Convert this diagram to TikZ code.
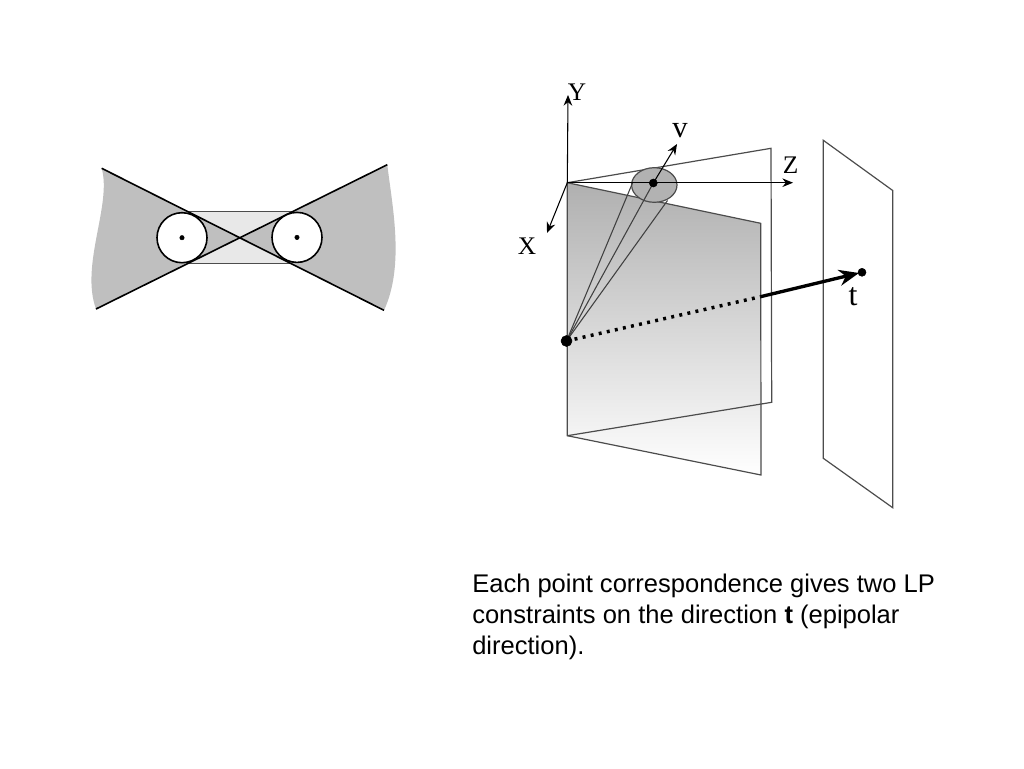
\documentclass[tikz,border=0pt]{standalone}
\usepackage{fontspec}
\setmainfont{Liberation Sans}
\newfontfamily\axisfont{Liberation Serif}
\usetikzlibrary{arrows.meta}

\tikzset{
    bowedge/.style={draw=black, line width=1.2pt},
    planeedge/.style={draw=black!70, line width=0.9pt},
    axisline/.style={draw=black, line width=0.8pt, -{Stealth[length=8pt, width=6.5pt]}},
    raceline/.style={draw=black!75, line width=0.8pt},
    axislabel/.style={font=\axisfont\fontsize{19}{21}\selectfont, inner sep=0pt},
    wedgefill/.style={fill=black!25},
    dotmark/.style={fill=black, draw=black}
}

\begin{document}
\begin{tikzpicture}[x=0.75pt, y=-0.75pt]
    \useasboundingbox (0, 0) rectangle (1024, 768);

    % two views
    \coordinate (tl) at (101.7, 168.3);
    \coordinate (bl) at (96, 309);
    \coordinate (tr) at (387.3, 164.7);
    \coordinate (br) at (384, 310.3);
    \coordinate (cross) at (240, 237.7);
    \coordinate (leftc) at (182, 237.7);
    \coordinate (rightc) at (297, 237.4);

    \filldraw[fill=black!9, draw=black!70, line width=0.8pt]
        (187, 211.3) rectangle (292, 263.3);
    \fill[wedgefill] (cross) -- (tl)
        .. controls (112, 205) and (80, 265) .. (bl) -- cycle;
    \fill[wedgefill] (cross) -- (tr)
        .. controls (392, 205) and (405, 265) .. (br) -- cycle;
    \draw[bowedge] (tl) -- (br);
    \draw[bowedge] (bl) -- (tr);
    \foreach \c in {leftc, rightc} {
        \filldraw[fill=white, bowedge] (\c) circle (25);
        \filldraw[dotmark] (\c) circle (2.2);
    }

    % planes
    \coordinate (origin) at (567.3, 182.7);
    \coordinate (low) at (567.3, 435.7);
    \coordinate (campt) at (566.5, 341);
    \coordinate (center) at (653.3, 183);

    \shade[top color=black!31, bottom color=white]
        (origin) -- (760.7, 223.3) -- (761, 475) -- (low) -- cycle;
    \draw[planeedge] (origin) -- (771, 148.3) -- (771.7, 402.3) -- (low);
    \draw[planeedge] (origin) -- (760.7, 223.3) -- (761, 475) -- (low) -- cycle;
    \draw[planeedge] (823.3, 140.3) -- (892.7, 190.5) -- (892.7, 507.7)
        -- (823.3, 458.3) -- cycle;

    % image point cone
    \filldraw[fill=black!30, draw=black!70, line width=0.9pt]
        (654.3, 185) ellipse [x radius=22.7, y radius=17.3];
    \foreach \e in {(632.5, 183), (center), (667.5, 200.5)} {
        \draw[raceline] (campt) -- \e;
    }

    % axes
    \coordinate (ytip) at (568, 95);
    \coordinate (ztip) at (793, 182.7);
    \coordinate (xtip) at (547, 233);
    \coordinate (vtip) at (677, 144);
    \draw[axisline] (origin) -- (ytip);
    \draw[axisline] (origin) -- (ztip);
    \draw[axisline] (origin) -- (xtip);
    \draw[axisline] (center) -- (vtip);
    \filldraw[dotmark] (center) circle (4);

    \node[axislabel] (ylabel) at (577, 92) {Y};
    \node[axislabel] (zlabel) at (790.5, 165) {Z};
    \node[axislabel] (xlabel) at (527, 246) {X};
    \node[axislabel, font=\axisfont\fontsize{23}{25}\selectfont] (vlabel) at (680, 131) {v};

    % direction t
    \coordinate (tpt) at (862, 272.3);
    \coordinate (exit) at (760.5, 296.7);
    \filldraw[dotmark] (campt) circle (5.5);
    \filldraw[dotmark] (tpt) circle (4);
    \draw[black, line width=2.6pt, dash pattern=on 2.2pt off 4pt] (campt) -- (exit);
    \draw[black, line width=2.5pt, -{Stealth[length=15pt, width=12pt]}] (exit) -- (859, 273);
    \node[axislabel, font=\axisfont\fontsize{24}{26}\selectfont] (tlabel) at (853, 297) {t};

    % caption
    \node[anchor=north west, inner sep=0pt, align=left,
        font=\fontsize{19.15}{23.25}\selectfont] (caption) at (472, 574)
        {Each point correspondence gives two LP\\
         constraints on the direction \textbf{t} (epipolar\\
         direction).};
\end{tikzpicture}
\end{document}
